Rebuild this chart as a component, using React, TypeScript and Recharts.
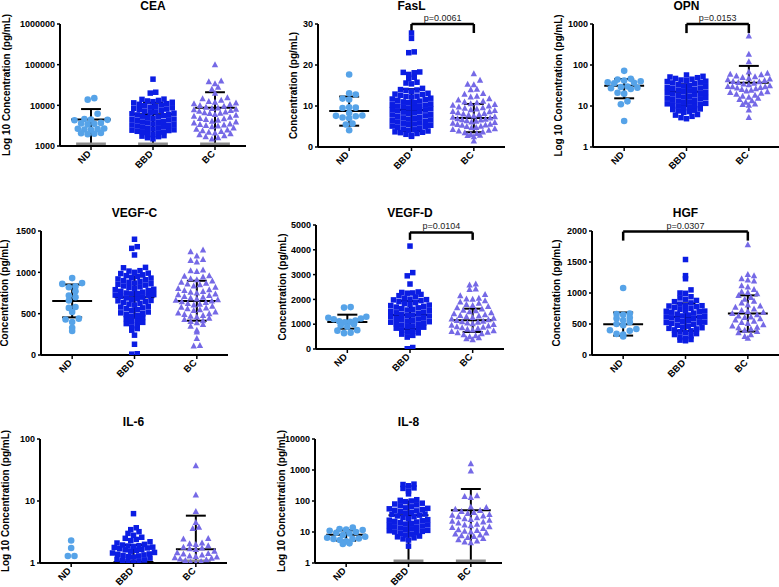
import React from 'react';
import { ScatterChart, Scatter, XAxis, YAxis, ReferenceLine, ReferenceDot } from 'recharts';

const FONT = '"Liberation Sans", Arial, Helvetica, sans-serif';
const groups = ['ND', 'BBD', 'BC'];
const COLORS = ['#56a3e8', '#0b1de3', '#7569e6'];

// ---------- CEA ----------
const ceaND = [15000, 13800, 6200, 4600, 4500, 4400, 4300, 3700, 3600, 3500, 3400, 2700, 2650, 2600, 2550, 2500, 2100, 2050, 2000, 1950];
const ceaBBD = [1500, 1600, 1700, 1750, 1800, 1900, 2000, 2100, 2150, 2200, 2300, 2400, 2450, 2500, 2600, 2700, 2800, 2900, 3000, 3100, 3200, 3300, 3400, 3500, 3700, 3800, 3900, 4000, 4200, 4400, 4500, 4600, 4800, 5000, 5200, 5400, 5600, 5800, 6000, 6200, 6400, 6600, 6900, 7200, 7500, 7800, 8100, 8400, 8700, 9000, 9400, 9800, 10200, 10600, 11000, 11500, 11900, 12300, 12800, 13200, 14000, 14200, 20000, 21000, 44000];
const ceaBC = [1500, 1600, 1700, 1800, 1900, 2000, 2100, 2200, 2300, 2400, 2500, 2600, 2800, 3000, 3100, 3200, 3300, 3400, 3500, 3700, 3900, 4100, 4300, 4500, 4700, 4800, 5100, 5400, 5700, 6000, 6300, 6400, 6600, 6900, 7200, 7500, 7800, 8100, 8400, 8700, 9000, 9500, 10000, 10500, 11000, 11500, 12000, 12500, 13500, 14500, 15500, 20000, 25000, 28000, 34000, 38000, 40000, 100000];
const ceaMean = [4500, 6000, 8700];
const ceaUpper = [8100, 11600, 21000];
const ceaLower = [1000, 1000, 1000];
const ceaTicks = [1000, 10000, 100000, 1000000];

// ---------- FasL ----------
const fasND = [17.7, 13.1, 12.8, 11.8, 11.6, 9.7, 9.6, 9.5, 8.3, 7.7, 7.6, 7.5, 7.2, 7.0, 5.7, 5.5, 4.1];
const fasBBD = [2.6, 2.8, 3.1, 3.3, 3.5, 3.6, 3.7, 3.9, 4.1, 4.2, 4.4, 4.6, 4.8, 5.0, 5.1, 5.3, 5.5, 5.6, 5.8, 5.9, 6.1, 6.2, 6.4, 6.6, 6.8, 6.9, 7.1, 7.2, 7.4, 7.6, 7.8, 7.9, 8.2, 8.3, 8.5, 8.6, 8.8, 9.0, 9.1, 9.3, 9.5, 9.6, 9.8, 9.9, 10.0, 10.2, 10.3, 10.5, 10.8, 10.9, 11.0, 11.2, 11.4, 11.6, 11.7, 11.9, 12.2, 12.3, 12.4, 12.6, 12.8, 12.9, 13.1, 13.6, 13.8, 13.9, 14.0, 14.3, 15.4, 15.6, 15.8, 16.7, 17.0, 17.7, 18.1, 18.2, 18.3, 23.0, 23.2, 26.5, 27.8];
const fasBC = [1.5, 2.5, 2.8, 2.9, 3.1, 3.3, 3.5, 3.7, 3.9, 4.1, 4.3, 4.5, 4.7, 4.8, 5.0, 5.1, 5.3, 5.4, 5.5, 5.6, 5.8, 6.0, 6.1, 6.3, 6.4, 6.6, 6.7, 6.8, 6.9, 7.1, 7.3, 7.4, 7.6, 7.8, 7.9, 8.1, 8.2, 8.4, 8.6, 8.7, 8.9, 9.1, 9.3, 9.5, 9.6, 9.8, 10.0, 10.2, 10.4, 10.6, 10.8, 11.0, 11.2, 11.5, 11.8, 12.2, 12.4, 12.9, 13.1, 14.0, 14.1, 15.2, 15.3, 16.3, 17.9];
const fasMean = [8.8, 9.0, 7.1];
const fasUpper = [12.3, 14.1, 10.5];
const fasLower = [5.2, 3.9, 3.6];
const fasTicks = [0, 10, 20, 30];

// ---------- OPN ----------
const opnND = [72, 46, 44, 42, 40, 38, 37, 36, 30, 29, 28, 27, 26, 21, 20, 13, 11, 4.3];
const opnBBD = [4.9, 5.2, 5.6, 6.0, 6.2, 7.0, 7.3, 7.6, 7.9, 8.2, 8.5, 9, 9.5, 10, 10.3, 10.7, 11, 11.3, 11.6, 12, 12.6, 13.2, 13.8, 14.4, 15, 15.5, 16, 16.5, 17.3, 18, 18.8, 19.6, 20.4, 21.2, 21.6, 22.5, 23.5, 24.5, 25.5, 26.5, 27.5, 28.5, 29.5, 30.5, 32, 33.5, 35, 36.5, 38, 39.5, 40.2, 41.5, 43, 45, 47, 49, 51, 53, 57];
const opnBC = [5.3, 8, 10.5, 11, 11.3, 12.5, 13.5, 14.5, 15.5, 16.5, 17.5, 18.5, 19.5, 20.5, 21.5, 22.5, 23.5, 24.5, 25.5, 26.5, 27.5, 28.5, 29.5, 29.7, 30, 31.5, 33, 34.5, 36, 37.5, 39, 40, 42, 44, 46, 48, 50, 52, 54, 58, 60, 63, 68, 120, 185, 510];
const opnMean = [31, 22.4, 37];
const opnUpper = [45.6, 33.8, 95];
const opnLower: (number | null)[] = [15.4, 10, null];
const opnTicks = [1, 10, 100, 1000];

// ---------- VEGF-C ----------
const vcND = [930, 870, 860, 830, 820, 770, 720, 700, 660, 580, 570, 520, 440, 430, 400, 330, 290];
const vcBBD = [10, 15, 130, 240, 300, 320, 340, 360, 380, 395, 405, 420, 440, 455, 470, 480, 490, 500, 510, 520, 540, 550, 560, 570, 580, 590, 605, 615, 625, 635, 645, 655, 660, 670, 680, 690, 700, 710, 720, 725, 730, 740, 745, 750, 760, 770, 780, 790, 795, 805, 815, 825, 835, 845, 855, 862, 870, 880, 890, 900, 910, 920, 930, 940, 950, 960, 970, 985, 990, 1000, 1015, 1020, 1055, 1060, 1210, 1290, 1310, 1400];
const vcBC = [110, 115, 200, 280, 300, 350, 370, 390, 405, 415, 430, 445, 460, 470, 480, 490, 500, 510, 520, 540, 550, 560, 570, 580, 590, 605, 615, 625, 635, 645, 655, 665, 670, 680, 690, 700, 710, 720, 730, 740, 750, 760, 770, 780, 790, 805, 820, 835, 850, 860, 870, 880, 895, 910, 925, 945, 955, 960, 1010, 1020, 1030, 1125, 1145, 1155, 1200, 1250, 1270];
const vcMean = [654, 699, 654];
const vcUpper = [853, 951, 898];
const vcLower = [455, 451, 415];
const vcTicks = [0, 500, 1000, 1500];

// ---------- VEGF-D ----------
const vdND = [1690, 1670, 1300, 1260, 1230, 1200, 1150, 1120, 1100, 1080, 1000, 950, 900, 760, 740, 660, 640];
const vdBBD = [10, 60, 480, 550, 600, 650, 680, 720, 760, 800, 840, 880, 900, 930, 960, 990, 1020, 1050, 1080, 1100, 1120, 1150, 1180, 1210, 1240, 1270, 1300, 1330, 1340, 1370, 1400, 1430, 1460, 1490, 1520, 1550, 1570, 1600, 1630, 1660, 1690, 1720, 1750, 1770, 1790, 1830, 1870, 1910, 1950, 1980, 1990, 2010, 2050, 2100, 2150, 2200, 2250, 2260, 2280, 2300, 2620, 2950, 3080, 4150];
const vdBC = [380, 420, 460, 500, 540, 580, 620, 660, 680, 710, 740, 770, 800, 830, 860, 880, 900, 930, 960, 990, 1020, 1050, 1080, 1100, 1120, 1150, 1180, 1210, 1240, 1270, 1300, 1330, 1350, 1390, 1430, 1470, 1510, 1550, 1570, 1620, 1670, 1720, 1760, 1800, 1850, 1900, 1950, 2010, 2020, 2050, 2150, 2200, 2400, 2420, 2580, 2620];
const vdMean = [1089, 1371, 1156];
const vdUpper = [1384, 1935, 1626];
const vdLower = [820, 806, 685];
const vdTicks = [0, 1000, 2000, 3000, 4000, 5000];

// ---------- HGF ----------
const hgND = [1080, 670, 660, 650, 600, 590, 560, 530, 500, 480, 420, 400, 390, 340, 330, 300];
const hgBBD = [230, 240, 250, 270, 290, 310, 330, 345, 360, 375, 390, 405, 420, 430, 440, 450, 465, 480, 495, 510, 520, 525, 530, 540, 555, 570, 585, 600, 610, 615, 618, 630, 645, 660, 675, 690, 700, 705, 708, 715, 735, 750, 765, 780, 790, 795, 800, 820, 840, 860, 880, 900, 920, 940, 995, 1000, 1050, 1230, 1280, 1540];
const hgBC = [270, 300, 330, 360, 380, 400, 420, 440, 450, 470, 490, 510, 525, 545, 565, 585, 605, 615, 630, 650, 670, 690, 705, 720, 745, 770, 790, 810, 840, 870, 900, 930, 960, 990, 1010, 1020, 1060, 1100, 1120, 1195, 1210, 1230, 1280, 1300, 1780];
const hgMean = [497, 611, 670];
const hgUpper = [686, 832, 962];
const hgLower = [313, 389, 378];
const hgTicks = [0, 500, 1000, 1500, 2000];

// ---------- IL-6 ----------
const i6ND = [2.3, 1.75, 1.3, 1.3];
const i6BBD = [1.02, 1.05, 1.08, 1.1, 1.12, 1.15, 1.2, 1.25, 1.27, 1.3, 1.32, 1.35, 1.38, 1.4, 1.45, 1.48, 1.55, 1.6, 1.63, 1.65, 1.7, 1.75, 1.78, 1.8, 1.85, 1.88, 1.9, 1.95, 2.0, 2.1, 2.2, 2.3, 2.4, 2.5, 2.6, 2.8, 3.0, 3.2, 3.45, 3.7, 6.25];
const i6BC = [1.0, 1.03, 1.06, 1.1, 1.13, 1.16, 1.2, 1.22, 1.25, 1.28, 1.3, 1.35, 1.4, 1.43, 1.47, 1.55, 1.65, 1.7, 1.75, 1.8, 1.9, 2.0, 2.05, 2.1, 2.45, 2.5, 3.6, 3.8, 4.5, 6.8, 12.5, 37];
const i6Mean: (number | null)[] = [null, 1.04, 1.66];
const i6Upper: (number | null)[] = [null, 1.95, 5.8];
const i6Lower: (number | null)[] = [null, 1, 1];
const i6Ticks = [1, 10, 100];

// ---------- IL-8 ----------
const i8ND = [14, 12.5, 12, 11.5, 11, 10, 9.5, 9, 8, 7, 6.5, 6.2, 6, 6, 5.5, 5, 4.3, 4.1];
const i8BBD = [3.5, 5.5, 6, 6.5, 7, 7.4, 8, 8.5, 9, 9.5, 10, 10.5, 11, 11.3, 12, 12.7, 13.4, 14, 14.7, 15.5, 16.3, 17, 18, 19, 20, 21, 22, 23, 24, 25, 27, 29, 31, 33, 35, 37, 38, 40, 42, 45, 48, 50, 53, 56, 58, 60, 65, 70, 75, 80, 85, 95, 100, 105, 110, 170, 210, 255, 265, 310, 340, 350];
const i8BC = [4.5, 4.8, 5.2, 5.7, 6.2, 6.7, 7.2, 7.6, 8, 8.7, 9.4, 10, 10.7, 11.3, 12, 13, 14, 15, 16, 17, 18, 19.5, 21, 22.5, 24, 25.5, 27, 29, 31, 33, 35, 37, 40, 43, 46, 50, 55, 62, 65, 130, 140, 150, 930, 1600];
const i8Mean = [8.2, 35, 50];
const i8Upper = [11.3, 97, 244];
const i8Lower = [5.25, 1, 1];
const i8Ticks = [1, 10, 100, 1000, 10000];

type Bracket = { from: number; to: number; y: number; drop: number; text: string };
type PanelDef = {
  title: string; left: number; top: number; w: number; h: number; titleY: number;
  log: boolean; domain: [number, number]; ticks: number[]; yLabel: string; labelGap: number;
  nd: number[]; bbd: number[]; bc: number[];
  mean: (number | null)[]; upper: (number | null)[]; lower: (number | null)[];
  bracket?: Bracket;
};

const LOGLABEL = 'Log 10 Concentration (pg/mL)';
const LINLABEL = 'Concentration (pg/mL)';

const panels: PanelDef[] = [
  { title: 'CEA', left: 60, top: 24, w: 186, h: 122, titleY: 6, log: true, domain: [1000, 1000000], ticks: ceaTicks, yLabel: LOGLABEL, labelGap: 54, nd: ceaND, bbd: ceaBBD, bc: ceaBC, mean: ceaMean, upper: ceaUpper, lower: ceaLower },
  { title: 'FasL', left: 318, top: 24, w: 187, h: 123, titleY: 6, log: false, domain: [0, 30], ticks: fasTicks, yLabel: LINLABEL, labelGap: 25, nd: fasND, bbd: fasBBD, bc: fasBC, mean: fasMean, upper: fasUpper, lower: fasLower, bracket: { from: 1, to: 2, y: 30, drop: 27.8, text: 'p=0.0061' } },
  { title: 'OPN', left: 593, top: 24, w: 187, h: 123, titleY: 6, log: true, domain: [1, 1000], ticks: opnTicks, yLabel: LOGLABEL, labelGap: 35, nd: opnND, bbd: opnBBD, bc: opnBC, mean: opnMean, upper: opnUpper, lower: opnLower, bracket: { from: 1, to: 2, y: 1000, drop: 600, text: 'p=0.0153' } },
  { title: 'VEGF-C', left: 41, top: 231, w: 187, h: 124, titleY: 213, log: false, domain: [0, 1500], ticks: vcTicks, yLabel: LINLABEL, labelGap: 37, nd: vcND, bbd: vcBBD, bc: vcBC, mean: vcMean, upper: vcUpper, lower: vcLower },
  { title: 'VEGF-D', left: 316, top: 225, w: 188, h: 124, titleY: 213, log: false, domain: [0, 5000], ticks: vdTicks, yLabel: LINLABEL, labelGap: 34, nd: vdND, bbd: vdBBD, bc: vdBC, mean: vdMean, upper: vdUpper, lower: vdLower, bracket: { from: 1, to: 2, y: 4700, drop: 4400, text: 'p=0.0104' } },
  { title: 'HGF', left: 592, top: 231, w: 187, h: 124, titleY: 213, log: false, domain: [0, 2000], ticks: hgTicks, yLabel: LINLABEL, labelGap: 36, nd: hgND, bbd: hgBBD, bc: hgBC, mean: hgMean, upper: hgUpper, lower: hgLower, bracket: { from: 0, to: 2, y: 1990, drop: 1845, text: 'p=0.0307' } },
  { title: 'IL-6', left: 40, top: 439, w: 187, h: 124, titleY: 421.5, log: true, domain: [1, 100], ticks: i6Ticks, yLabel: LOGLABEL, labelGap: 35, nd: i6ND, bbd: i6BBD, bc: i6BC, mean: i6Mean, upper: i6Upper, lower: i6Lower },
  { title: 'IL-8', left: 315, top: 439, w: 187, h: 124, titleY: 421.5, log: true, domain: [1, 10000], ticks: i8Ticks, yLabel: LOGLABEL, labelGap: 34, nd: i8ND, bbd: i8BBD, bc: i8BC, mean: i8Mean, upper: i8Upper, lower: i8Lower },
];

const YW = 64, MT = 30, MR = 4, XH = 44;
const SIZES = [6.6, 5.5, 6.2];
const MAXHALF = [19, 21, 21];

// Scatter-dot-plot layout: values in the same row are spread sideways from the group centre.
function swarm(values: number[], gi: number, p: PanelDef) {
  const t = (v: number) => (p.log ? Math.log10(v) : v);
  const a = t(p.domain[0]);
  const b = t(p.domain[1]);
  const size = SIZES[gi];
  const bin = (size * (b - a)) / p.h;
  const bins = new Map<number, number[]>();
  values.forEach((v) => {
    const k = Math.floor((t(v) - a) / bin);
    if (!bins.has(k)) bins.set(k, []);
    bins.get(k)!.push(v);
  });
  const unit = 3 / p.w;
  const pts: { x: number; y: number }[] = [];
  bins.forEach((arr) => {
    arr.sort((x, y) => x - y);
    const n = arr.length;
    const sp = n > 1 ? Math.min(size, (2 * MAXHALF[gi]) / (n - 1)) : size;
    arr.forEach((v, i) => {
      let pos: number;
      if (n % 2 === 1) pos = i === 0 ? 0 : Math.ceil(i / 2) * (i % 2 ? -1 : 1);
      else pos = (Math.floor(i / 2) + 0.5) * (i % 2 ? 1 : -1);
      pts.push({ x: gi + 0.5 + pos * sp * unit, y: v });
    });
  });
  return pts;
}

const CircleDot = (props: any) => <circle cx={props.cx} cy={props.cy} r={3.3} fill={COLORS[0]} />;
const SquareDot = (props: any) => <rect x={props.cx - 2.75} y={props.cy - 2.75} width={5.5} height={5.5} fill={COLORS[1]} />;
const TriDot = (props: any) => (
  <polygon points={`${props.cx},${props.cy - 3.4} ${props.cx + 3.2},${props.cy + 2.6} ${props.cx - 3.2},${props.cy + 2.6}`} fill={COLORS[2]} />
);
const SHAPES = [CircleDot, SquareDot, TriDot];

const XTick = (props: any) => {
  const { x, y, payload } = props;
  return (
    <g transform={`translate(${x},${y})`}>
      <text x={0} y={0} transform="translate(0.5,2.5) rotate(-45)" textAnchor="end" fontSize={9.5} fontWeight="bold" fontFamily={FONT} fill="#000">
        {groups[Math.round(payload.value - 0.5)]}
      </text>
    </g>
  );
};

function Panel({ p }: { p: PanelDef }) {
  const W = YW + p.w + MR;
  const H = MT + p.h + XH;
  const series = [p.nd, p.bbd, p.bc];
  const lines: React.ReactNode[] = [];
  for (let i = 0; i < 3; i++) {
    const c = i + 0.5;
    const m = p.mean[i];
    const u = p.upper[i];
    const l = p.lower[i];
    if (m == null || u == null) continue;
    const lo = l == null ? m : Math.max(l, p.domain[0]);
    lines.push(<ReferenceLine key={`w${i}`} segment={[{ x: c, y: lo }, { x: c, y: u }]} stroke="#000" strokeWidth={2} ifOverflow="visible" />);
    lines.push(<ReferenceLine key={`u${i}`} segment={[{ x: c - 0.16, y: u }, { x: c + 0.16, y: u }]} stroke="#000" strokeWidth={2} ifOverflow="visible" />);
    if (l != null) {
      if (l > p.domain[0]) {
        lines.push(<ReferenceLine key={`l${i}`} segment={[{ x: c - 0.16, y: l }, { x: c + 0.16, y: l }]} stroke="#000" strokeWidth={2} ifOverflow="visible" />);
      } else {
        lines.push(
          <ReferenceLine
            key={`g${i}`}
            segment={[{ x: c - 0.24, y: p.domain[0] }, { x: c + 0.24, y: p.domain[0] }]}
            ifOverflow="visible"
            shape={(s: any) => <line x1={s.x1} x2={s.x2} y1={s.y1 - 2} y2={s.y2 - 2} stroke="#8c8c8c" strokeWidth={3} />}
          />
        );
      }
    }
    lines.push(<ReferenceLine key={`m${i}`} segment={[{ x: c - 0.32, y: m }, { x: c + 0.32, y: m }]} stroke="#000" strokeWidth={2} ifOverflow="visible" />);
  }
  const br = p.bracket;
  return (
    <div style={{ position: 'absolute', left: p.left - YW, top: p.top - MT, width: W, height: H }}>
      <ScatterChart width={W} height={H} margin={{ top: MT, right: MR, bottom: 0, left: 0 }}>
        <XAxis
          type="number"
          dataKey="x"
          domain={[0, 3]}
          ticks={[0.5, 1.5, 2.5]}
          interval={0}
          allowDataOverflow
          height={XH}
          tick={(tp: any) => <XTick {...tp} />}
          tickSize={4}
          tickMargin={2}
          axisLine={{ stroke: '#000', strokeWidth: 2 }}
          tickLine={{ stroke: '#000', strokeWidth: 1.5 }}
        />
        <YAxis
          type="number"
          dataKey="y"
          scale={p.log ? 'log' : 'linear'}
          domain={p.domain}
          ticks={p.ticks}
          interval={0}
          allowDataOverflow
          width={YW}
          tickSize={3}
          tickMargin={2}
          axisLine={{ stroke: '#000', strokeWidth: 2 }}
          tickLine={{ stroke: '#000', strokeWidth: 1.5 }}
          tick={{ fontSize: 9, fontWeight: 700, fill: '#000', fontFamily: FONT }}
          label={{
            content: (lp: any) => {
              const vb = lp.viewBox || {};
              const cx = vb.x + vb.width - p.labelGap;
              const cy = vb.y + vb.height / 2;
              return (
                <text x={cx} y={cy} transform={`rotate(-90 ${cx} ${cy})`} textAnchor="middle" dominantBaseline="central" fontSize={10} fontWeight="bold" fontFamily={FONT} fill="#000">
                  {p.yLabel}
                </text>
              );
            },
          }}
        />
        {series.map((d, gi) => (
          <Scatter key={gi} name={groups[gi]} data={swarm(d, gi, p)} shape={SHAPES[gi]} isAnimationActive={false} />
        ))}
        {lines}
        {br && <ReferenceLine segment={[{ x: br.from + 0.5, y: br.y }, { x: br.to + 0.5, y: br.y }]} stroke="#000" strokeWidth={2.5} ifOverflow="visible" />}
        {br && <ReferenceLine segment={[{ x: br.from + 0.5, y: br.y }, { x: br.from + 0.5, y: br.drop }]} stroke="#000" strokeWidth={2.5} ifOverflow="visible" />}
        {br && <ReferenceLine segment={[{ x: br.to + 0.5, y: br.y }, { x: br.to + 0.5, y: br.drop }]} stroke="#000" strokeWidth={2.5} ifOverflow="visible" />}
        {br && (
          <ReferenceDot
            x={(br.from + br.to) / 2 + 0.5}
            y={br.y}
            r={0}
            ifOverflow="visible"
            shape={(s: any) => (
              <text x={s.cx} y={s.cy - 3} textAnchor="middle" fontSize={9} fontFamily={FONT} fill="#222">
                {br.text}
              </text>
            )}
          />
        )}
      </ScatterChart>
      <div
        style={{
          position: 'absolute',
          left: YW,
          width: p.w,
          top: p.titleY - (p.top - MT) - 7,
          textAlign: 'center',
          fontFamily: FONT,
          fontWeight: 'bold',
          fontSize: 12,
          lineHeight: '14px',
          color: '#000',
          whiteSpace: 'nowrap',
        }}
      >
        {p.title}
      </div>
    </div>
  );
}

export default function App() {
  return (
    <div style={{ position: 'absolute', left: 0, top: 0, width: 779, height: 587, overflow: 'hidden', background: '#fff' }}>
      {panels.map((p) => (
        <Panel key={p.title} p={p} />
      ))}
    </div>
  );
}
